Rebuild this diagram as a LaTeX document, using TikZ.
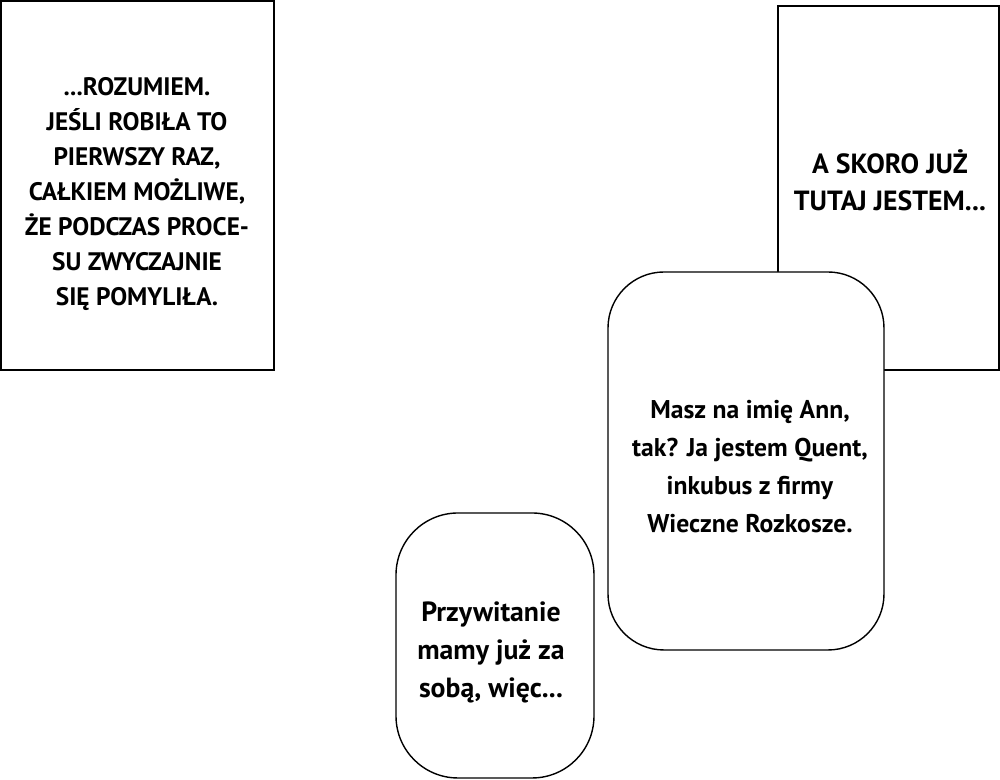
\documentclass[tikz,border=0pt]{standalone}
\usepackage{fontspec}
\setmainfont{PT Sans}
\tikzset{
  panel/.style={draw,fill=white,line width=0.4pt,inner sep=0pt},
  bubble/.style={panel,rounded corners=5.6mm},
  caption/.style={align=center,inner sep=0pt,font=\fontsize{7.2}{10}\selectfont\bfseries},
  speech/.style={align=center,inner sep=0pt,font=\fontsize{7.3}{10.8}\selectfont\bfseries}
}
\begin{document}
\begin{tikzpicture}[x=0.1mm,y=-0.1mm]
\useasboundingbox (0,0) rectangle (1000,780);
\node[panel,minimum width=27.3mm,minimum height=36.9mm] (box1) at (137.5,185.5) {};
\node[caption] (box1 text) at (137,194)
  {...ROZUMIEM.\\ JEŚLI ROBIŁA TO\\ PIERWSZY RAZ,\\ CAŁKIEM MOŻLIWE,\\ ŻE PODCZAS PROCE-\\ SU ZWYCZAJNIE\\ SIĘ POMYLIŁA.};
\node[panel,minimum width=22.1mm,minimum height=36.4mm] (box2) at (888.5,188) {};
\node[caption,font=\fontsize{7.9}{10.5}\selectfont\bfseries] (box2 text) at (890,180)
  {A SKORO JUŻ\\ TUTAJ JESTEM...};
\node[bubble,minimum width=27.6mm,minimum height=37.8mm] (bubble1) at (746,461) {};
\node[speech] (bubble1 text) at (750,467)
  {Masz na imię Ann,\\ tak? Ja jestem Quent,\\ inkubus z firmy\\ Wieczne Rozkosze.};
\node[bubble,rounded corners=6.2mm,minimum width=19.8mm,minimum height=26.5mm] (bubble2) at (495,645.5) {};
\node[speech,font=\fontsize{7.9}{10.8}\selectfont\bfseries] (bubble2 text) at (491,652)
  {Przywitanie\\ mamy już za\\ sobą, więc...};
\end{tikzpicture}
\end{document}
